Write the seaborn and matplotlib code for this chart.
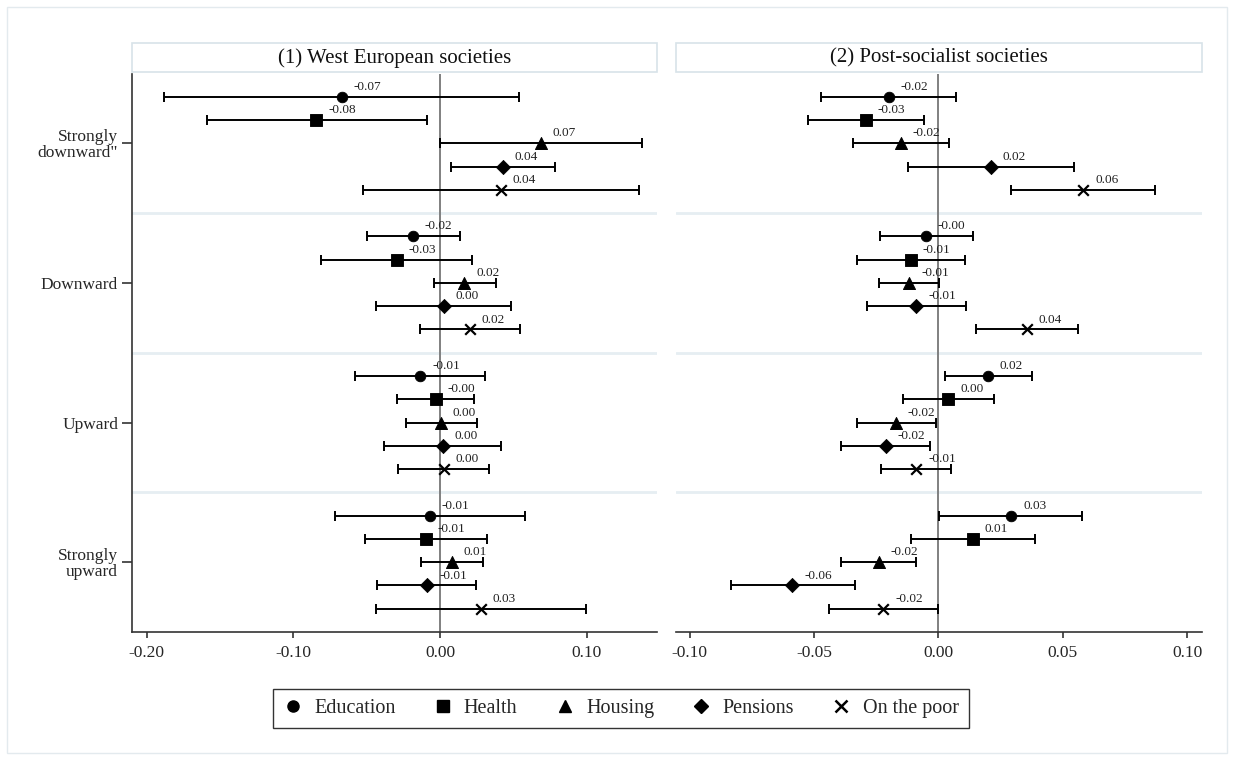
import numpy as np
import pandas as pd
import matplotlib
matplotlib.use("Agg")
import matplotlib.pyplot as plt
from matplotlib.lines import Line2D
from matplotlib.patches import Rectangle
import seaborn as sns

groups = ['Strongly\ndownward"', "Downward", "Upward", "Strongly\nupward"]
policies = ["Education", "Health", "Housing", "Pensions", "On the poor"]
panels = ["(1) West European societies", "(2) Post-socialist societies"]

# coefficients and 95% CI, rows = mobility group, cols = policy area
west_coef = [[-0.0671, -0.0843, 0.0687, 0.0430, 0.0416],
             [-0.0187, -0.0292, 0.0166, 0.0028, 0.0203],
             [-0.0133, -0.0028, 0.0007, 0.0019, 0.0028],
             [-0.0068, -0.0098, 0.0082, -0.0086, 0.0280]]
west_lo = [[-0.188, -0.159, 0.000, 0.0072, -0.0526],
           [-0.0498, -0.0808, -0.0040, -0.0435, -0.0138],
           [-0.0577, -0.0290, -0.0234, -0.0381, -0.0285],
           [-0.0717, -0.0512, -0.0129, -0.0428, -0.0437]]
west_hi = [[0.054, -0.0089, 0.1376, 0.0785, 0.1357],
           [0.0138, 0.0220, 0.0379, 0.0484, 0.0547],
           [0.0308, 0.0234, 0.0250, 0.0414, 0.0332],
           [0.0582, 0.0320, 0.0294, 0.0245, 0.0993]]

post_coef = [[-0.0200, -0.0291, -0.0152, 0.0212, 0.0583],
             [-0.0049, -0.0110, -0.0117, -0.0089, 0.0356],
             [0.0200, 0.0040, -0.0171, -0.0212, -0.0089],
             [0.0293, 0.0139, -0.0240, -0.0587, -0.0221]]
post_lo = [[-0.0472, -0.0526, -0.0344, -0.0122, 0.0294],
           [-0.0233, -0.0326, -0.0239, -0.0287, 0.0151],
           [0.0025, -0.0144, -0.0326, -0.0390, -0.0229],
           [0.0003, -0.0110, -0.0390, -0.0835, -0.0440]]
post_hi = [[0.0071, -0.0058, 0.0043, 0.0545, 0.0870],
           [0.0139, 0.0108, 0.0003, 0.0111, 0.0562],
           [0.0376, 0.0223, -0.0010, -0.0032, 0.0050],
           [0.0578, 0.0390, -0.0090, -0.0337, 0.0000]]

x_ticks = [[-0.20, -0.10, 0.00, 0.10], [-0.10, -0.05, 0.00, 0.05, 0.10]]
x_lims = [(-0.21, 0.148), (-0.1055, 0.106)]

markers = {"Education": "o", "Health": "s", "Housing": "^",
           "Pensions": "D", "On the poor": "x"}
msizes = {"Education": 58, "Health": 64, "Housing": 75,
          "Pensions": 52, "On the poor": 58}

rows = []
for p, (c, lo, hi) in enumerate([(west_coef, west_lo, west_hi),
                                 (post_coef, post_lo, post_hi)]):
    for g, grp in enumerate(groups):
        for i, pol in enumerate(policies):
            rows.append(dict(panel=panels[p], group=grp, policy=pol,
                             coef=c[g][i], lo=lo[g][i], hi=hi[g][i],
                             ypos=g * 6 + i + 1))
df = pd.DataFrame(rows)

sns.set_theme(style="white")
plt.rcParams["font.family"] = ["Liberation Serif", "DejaVu Serif"]
plt.rcParams["axes.unicode_minus"] = False

fig = plt.figure(figsize=(12.34, 7.6), dpi=100)
W, H = 1234, 760
bottom = 1 - 632 / H
height = (632 - 73.5) / H
axes = [fig.add_axes([132 / W, bottom, (657 - 132) / W, height]),
        fig.add_axes([676 / W, bottom, (1202 - 676) / W, height])]

# faint outer frame
fig.patches.append(Rectangle((7 / W, 7 / H), 1 - 14 / W, 1 - 14 / H,
                             transform=fig.transFigure, fill=False,
                             edgecolor="#e3eaee", lw=1))

for k, ax in enumerate(axes):
    d = df[df.panel == panels[k]]
    for y in (6, 12, 18):
        ax.axhline(y, color="#e6eef2", lw=2, zorder=0)
    ax.axvline(0, color="#808080", lw=1.4, zorder=1)
    ax.errorbar(d.coef, d.ypos, xerr=[d.coef - d.lo, d.hi - d.coef],
                fmt="none", ecolor="black", elinewidth=1.4,
                capsize=3.6, capthick=1.4, zorder=2)
    for pol in policies:
        sub = d[d.policy == pol]
        kw = dict(edgecolor="black") if pol != "On the poor" else dict(linewidth=1.6)
        sns.scatterplot(data=sub, x="coef", y="ypos", marker=markers[pol],
                        s=msizes[pol], color="black", ax=ax, zorder=3,
                        legend=False, **kw)
    for _, r in d.iterrows():
        ax.annotate(f"{r.coef:.2f}", (r.coef, r.ypos), xytext=(8.5, 5),
                    textcoords="offset points", ha="left", va="baseline",
                    fontsize=9.5, color="#222222")

    ax.set_xlim(*x_lims[k])
    ax.set_ylim(24, 0)
    ax.set_xticks(x_ticks[k])
    ax.set_xticklabels([f"{v:.2f}" for v in x_ticks[k]])
    ax.set_xlabel("")
    ax.set_ylabel("")
    ax.tick_params(axis="x", bottom=True, length=4.5, width=1.2,
                   color="#333333", labelsize=12.5, pad=5)
    for s in ("top", "right"):
        ax.spines[s].set_visible(False)
    ax.spines["bottom"].set_color("#333333")
    ax.spines["bottom"].set_linewidth(1.2)
    if k == 0:
        ax.set_yticks([g * 6 + 3 for g in range(4)])
        ax.set_yticklabels(groups, linespacing=1.0, ha="right")
        ax.tick_params(axis="y", left=True, length=7, width=1.2,
                       color="#333333", labelsize=12.5, pad=3)
        ax.spines["left"].set_color("#333333")
        ax.spines["left"].set_linewidth(1.2)
    else:
        ax.set_yticks([])
        ax.spines["left"].set_visible(False)

    # title strip
    hbox = (73.5 - 44) / (632 - 73.5)
    ax.add_patch(Rectangle((0, 1.002), 1, hbox, transform=ax.transAxes,
                           facecolor="white", edgecolor="#d8e3e9", lw=1.2,
                           clip_on=False))
    ax.text(0.5, 1 + hbox / 2 + 0.002, panels[k], transform=ax.transAxes,
            ha="center", va="center", fontsize=15, color="#111111")

handles = [Line2D([], [], marker=markers[p], color="black", linestyle="none",
                  markersize=(8 if p != "Pensions" else 7.5),
                  markeredgewidth=(1.8 if p == "On the poor" else 1))
           for p in policies]
leg = fig.legend(handles, policies, loc="center", bbox_to_anchor=(0.503, 0.068),
                 ncol=5, fontsize=14.5, frameon=True, fancybox=False,
                 edgecolor="black", handlelength=1.0, handletextpad=0.55,
                 columnspacing=1.85, borderpad=0.5)
leg.get_frame().set_linewidth(1.0)

fig.savefig("out.png", dpi=100, facecolor="white")
